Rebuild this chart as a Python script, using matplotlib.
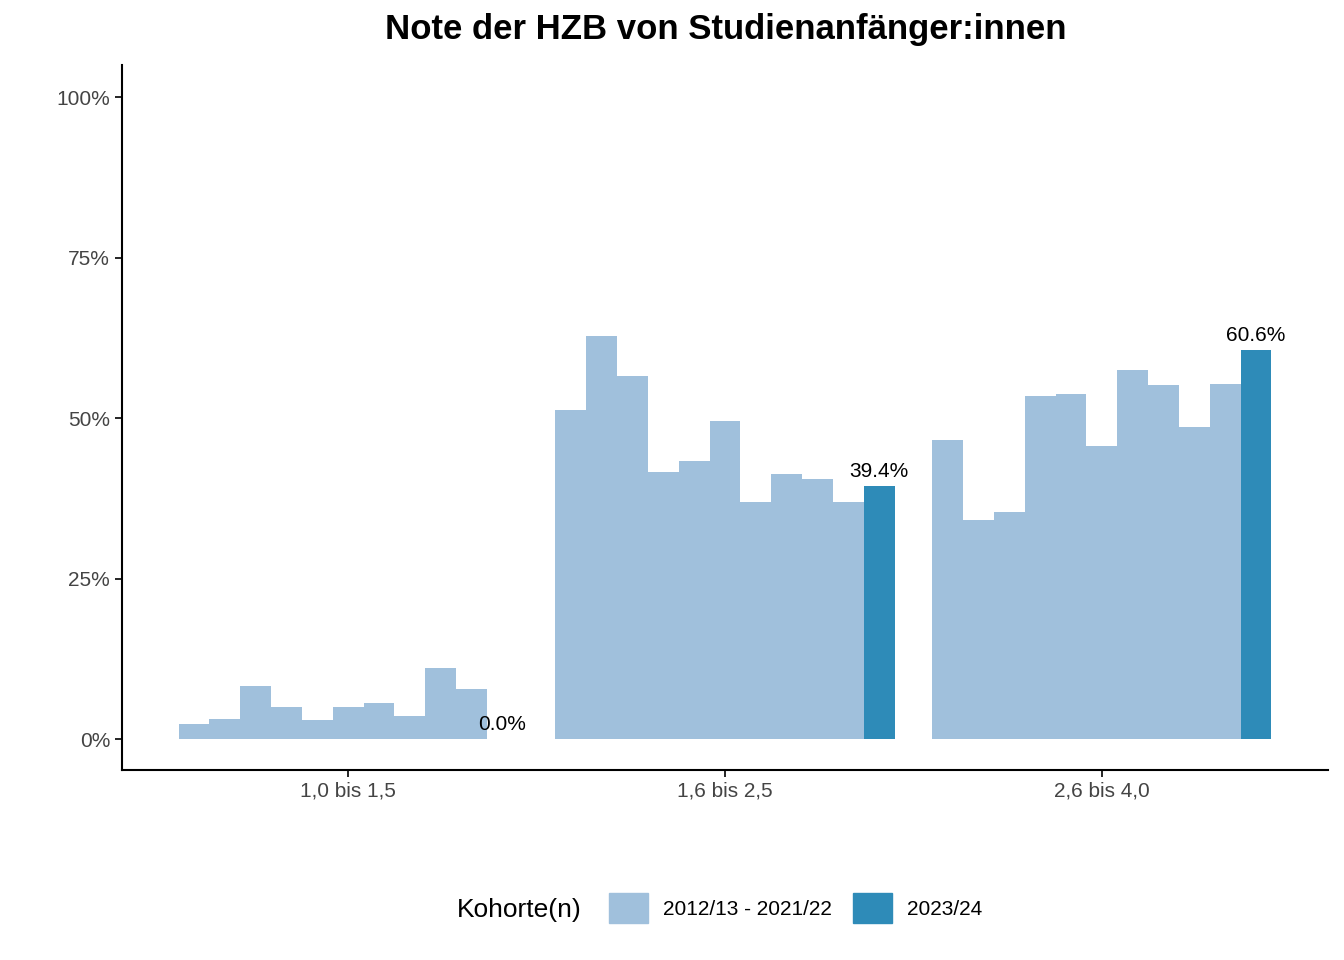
import matplotlib
matplotlib.use("Agg")
import matplotlib.pyplot as plt
from matplotlib.patches import Patch
import numpy as np

categories = ["1,0 bis 1,5", "1,6 bis 2,5", "2,6 bis 4,0"]
historic = [
    [2.3, 3.1, 8.3, 5.0, 3.0, 5.0, 5.6, 3.6, 11.1, 7.8],
    [51.2, 62.8, 56.5, 41.6, 43.3, 49.5, 36.9, 41.3, 40.5, 36.9],
    [46.6, 34.1, 35.4, 53.4, 53.7, 45.6, 57.5, 55.1, 48.6, 55.3],
]
current = [0.0, 39.4, 60.6]
legend_labels = ["2012/13 - 2021/22", "2023/24"]
c_light, c_dark = "#a0c0dc", "#2e8bb8"

plt.rcParams["font.family"] = "Liberation Sans"
fig = plt.figure(figsize=(13.44, 9.6), dpi=100)
ax = fig.add_axes([122/1344, 1-770/960, (1328-122)/1344, (770-65)/960])
n = 11
w = 0.9 / n
for i, cat in enumerate(categories):
    vals = historic[i] + [current[i]]
    for j, v in enumerate(vals):
        x = i - 0.45 + w * (j + 0.5)
        ax.bar(x, v, width=w, color=c_dark if j == n - 1 else c_light, linewidth=0)
        if j == n - 1:
            ax.text(x, v + 0.8, f"{v:.1f}%", ha="center", va="bottom", fontsize=15)
ax.set_xlim(-0.6, 2.6)
ax.set_ylim(-4.8, 105)
ax.set_xticks(range(3))
ax.set_xticklabels(categories, fontsize=15, color="#444444")
ax.set_yticks([0, 25, 50, 75, 100])
ax.set_yticklabels(["0%", "25%", "50%", "75%", "100%"], fontsize=15, color="#444444")
for s in ["top", "right"]:
    ax.spines[s].set_visible(False)
for s in ["left", "bottom"]:
    ax.spines[s].set_linewidth(1.5)
ax.tick_params(length=5, width=1.2)
fig.text(0.54, 1-30/960, "Note der HZB von Studienanfänger:innen", fontsize=25,
         fontweight="bold", ha="center", va="center")
fig.text(582/1344, 1-910/960, "Kohorte(n)", fontsize=19, ha="right", va="center")
handles = [Patch(color=c_light), Patch(color=c_dark)]
fig.legend(handles, legend_labels, loc="center left", bbox_to_anchor=(590/1344, 1-908/960),
           ncol=2, frameon=False, fontsize=15, handlelength=1.9, handleheight=1.9,
           columnspacing=1.0, handletextpad=0.7)
fig.savefig("out.png", dpi=100)
